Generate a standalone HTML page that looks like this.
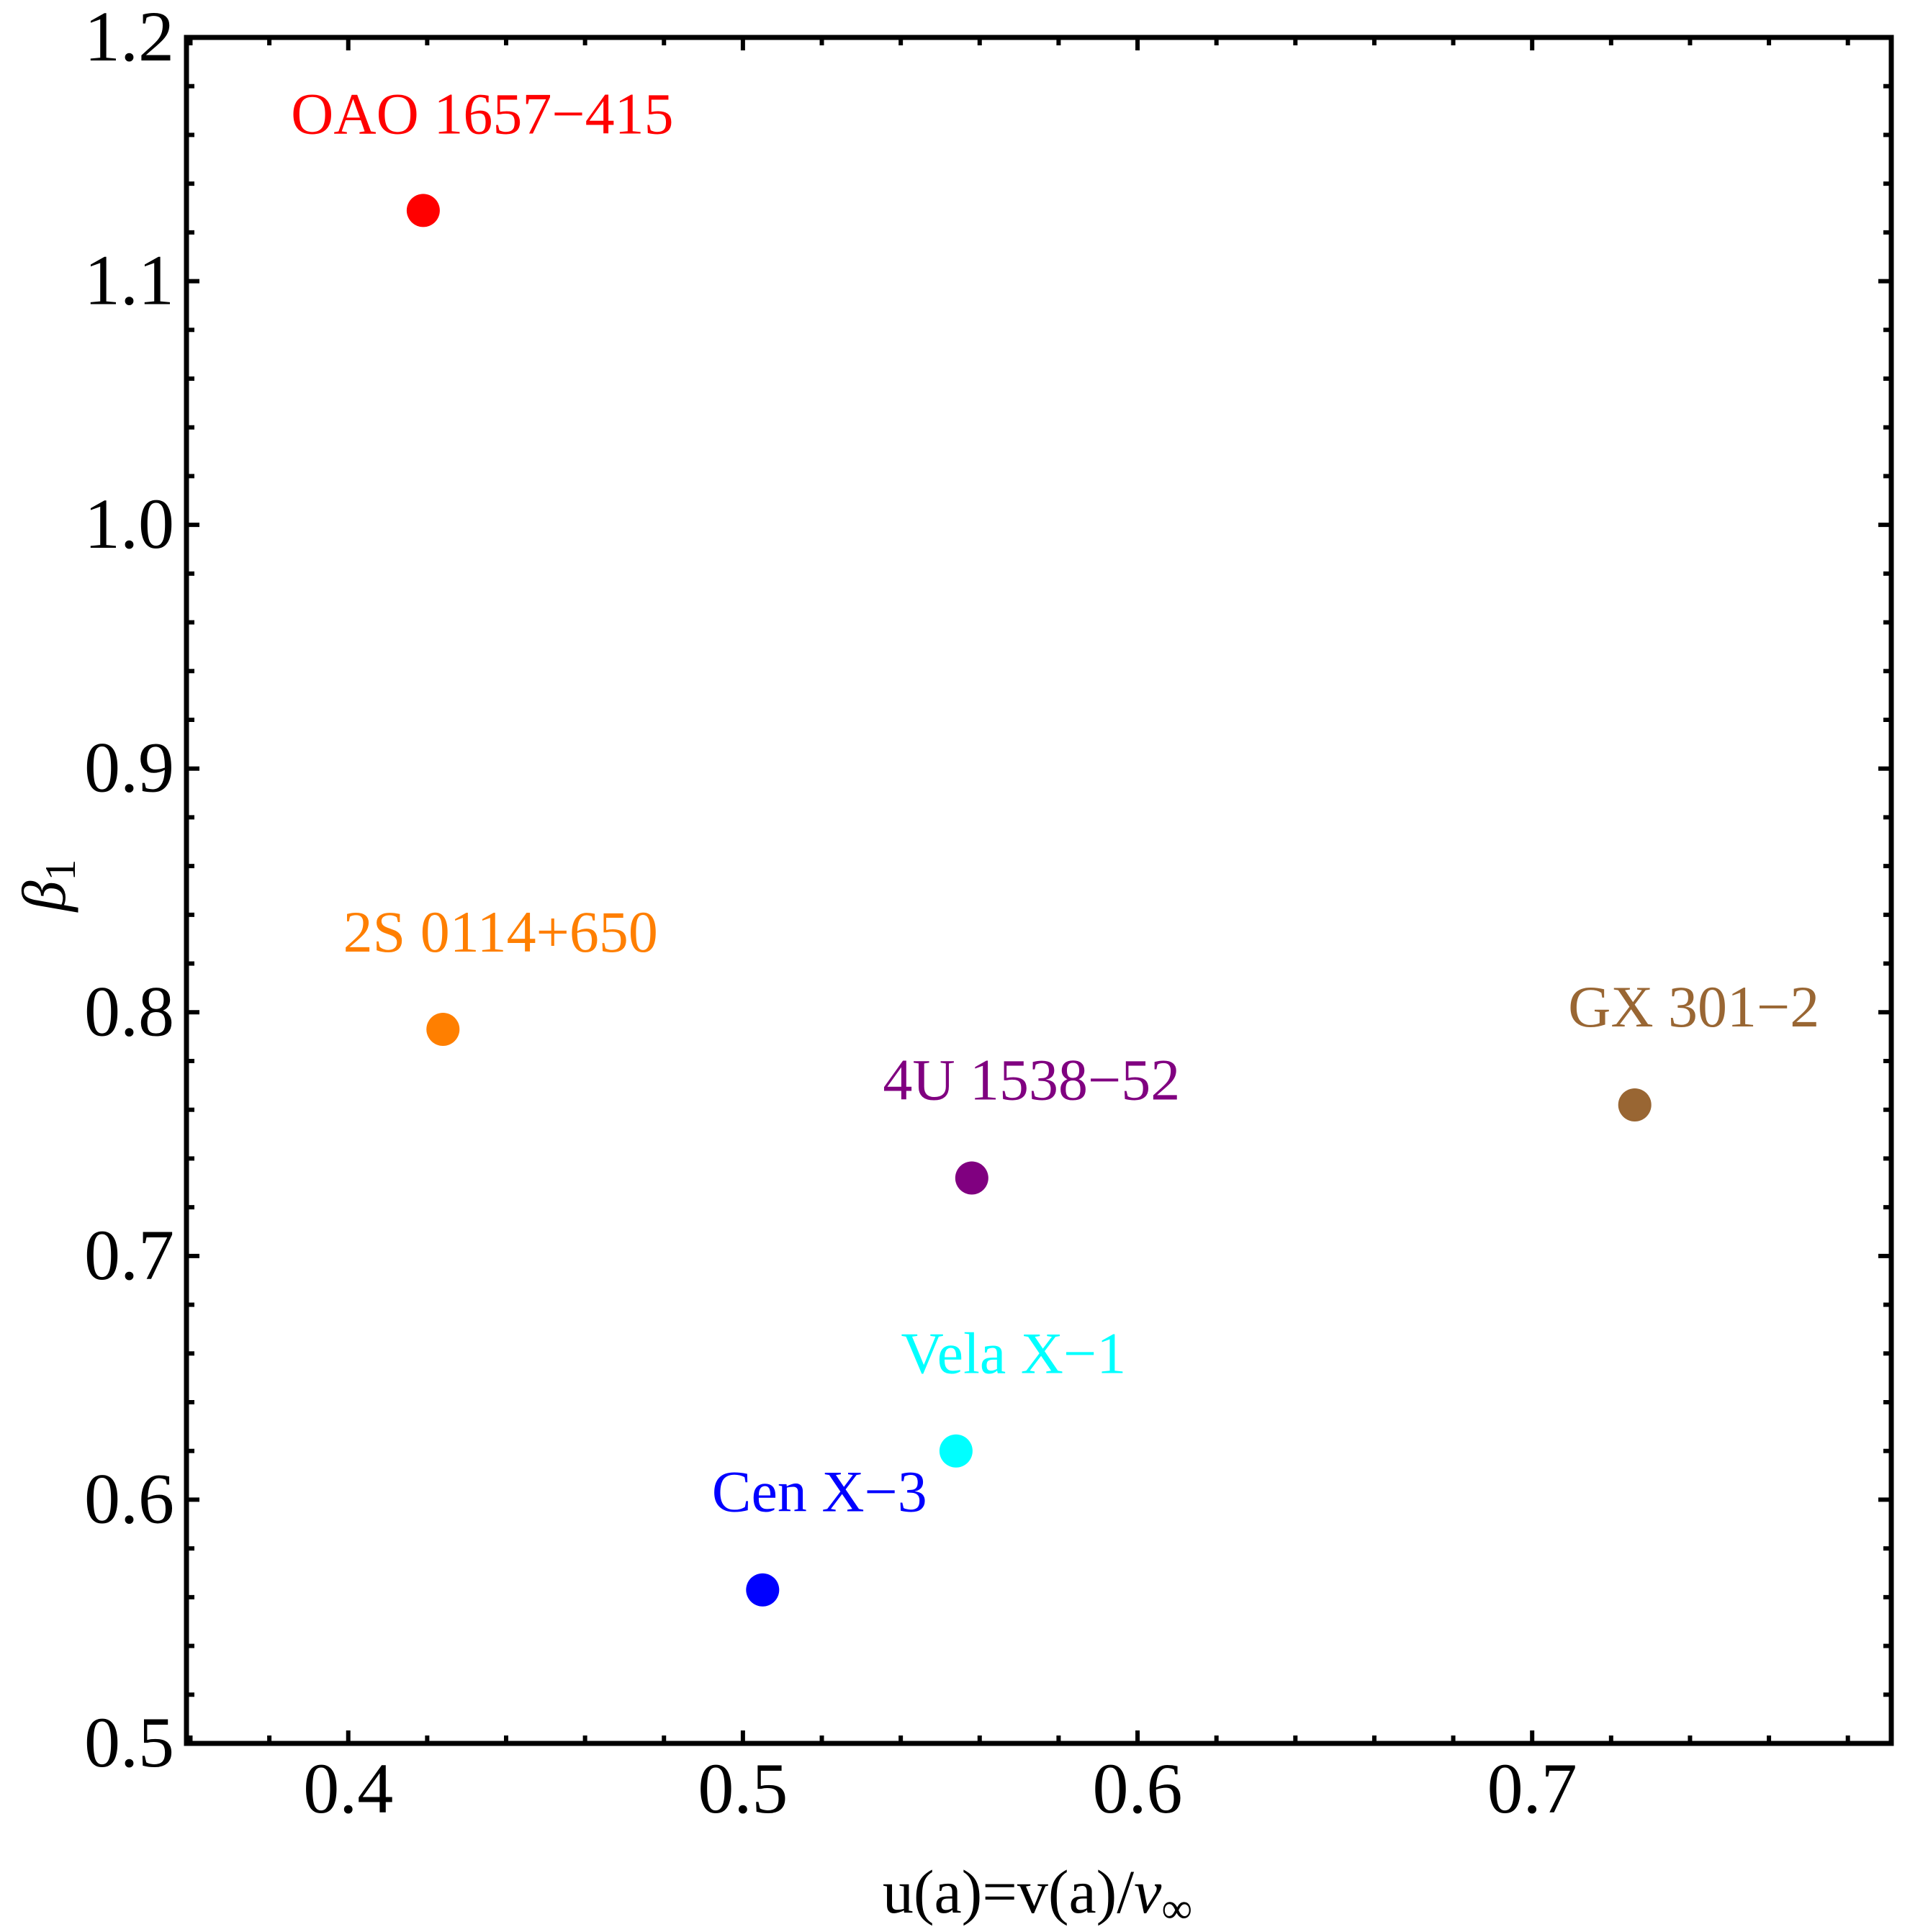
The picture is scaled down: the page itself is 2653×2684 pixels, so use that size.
<!DOCTYPE html>
<html><head><meta charset="utf-8"><style>
html,body{margin:0;padding:0;background:#fff}
svg{display:block}
text{font-family:"Liberation Serif",serif}
</style></head><body>
<svg id="chart" width="2653" height="2684" viewBox="0 0 2653 2684" xmlns="http://www.w3.org/2000/svg">
<g id="ticks"></g>
<g id="points"></g>
<rect x="259" y="52" width="2368" height="2370" fill="none" stroke="#000" stroke-width="7"/>
<text x="1441" y="2657" font-size="86" text-anchor="middle">u(a)=v(a)/<tspan font-style="italic">v</tspan><tspan font-size="60" dy="14">∞</tspan></text>
<text transform="translate(90,1230) rotate(-90)" font-size="86" text-anchor="middle"><tspan font-style="italic">β</tspan><tspan font-size="60" dy="14">1</tspan></text>
</svg>
<script>
const names = ["OAO 1657\u2212415","2S 0114+650","4U 1538\u221252","GX 301\u22122","Vela X\u22121","Cen X\u22123"];
const uVals = [0.419,0.424,0.558,0.726,0.554,0.505];
const betaVals = [1.129,0.793,0.732,0.762,0.620,0.563];
const colors = ["#ff0000","#ff7f00","#800080","#996633","#00ffff","#0000ff"];
const xTicks = [0.4,0.5,0.6,0.7];
const xTickLabels = ["0.4","0.5","0.6","0.7"];
const yTicks = [0.5,0.6,0.7,0.8,0.9,1.0,1.1,1.2];
const yTickLabels = ["0.5","0.6","0.7","0.8","0.9","1.0","1.1","1.2"];
const labelDx = [82,80,83,82,80,79];
const labelDy = [-107,-108,-109,-109,-108,-109];

const X0=259,X1=2627,Y0=2422,Y1=52, xmin=0.359,xmax=0.791,ymin=0.5,ymax=1.2;
const sx=v=>X0+(v-xmin)/(xmax-xmin)*(X1-X0);
const sy=v=>Y0-(v-ymin)/(ymax-ymin)*(Y0-Y1);
const NS="http://www.w3.org/2000/svg";
const tg=document.getElementById('ticks'), pg=document.getElementById('points');
function line(x1,y1,x2,y2,name){const l=document.createElementNS(NS,'line');
l.setAttribute('x1',x1);l.setAttribute('y1',y1);l.setAttribute('x2',x2);l.setAttribute('y2',y2);
l.setAttribute('stroke','#000');l.setAttribute('stroke-width','6');


tg.appendChild(l);}
for(let i=18;i<=39;i++){const v=i*0.02;if(v<xmin||v>xmax)continue;const x=sx(v);const major=i%5===0;const L=major?18:11;
line(x,Y0,x,Y0-L,'x-tick');line(x,Y1,x,Y1+L,'x-tick-top');}
for(let i=25;i<=60;i++){const v=i*0.02;const y=sy(v);const major=i%5===0;const L=major?18:11;
line(X0,y,X0+L,y,'y-tick');line(X1,y,X1-L,y,'y-tick-right');}
xTicks.forEach((v,i)=>{const t=document.createElementNS(NS,'text');
t.setAttribute('x',sx(v));t.setAttribute('y',2518);t.setAttribute('font-size','100');t.setAttribute('text-anchor','middle');
t.textContent=xTickLabels[i];


tg.appendChild(t);});
yTicks.forEach((v,i)=>{const t=document.createElementNS(NS,'text');
t.setAttribute('x',242);t.setAttribute('y',sy(v)+32);t.setAttribute('font-size','100');t.setAttribute('text-anchor','end');
t.textContent=yTickLabels[i];


tg.appendChild(t);});
uVals.forEach((u,i)=>{const c=document.createElementNS(NS,'circle');
c.setAttribute('cx',sx(u));c.setAttribute('cy',sy(betaVals[i]));c.setAttribute('r',23);c.setAttribute('fill',colors[i]);


pg.appendChild(c);
const t=document.createElementNS(NS,'text');
t.setAttribute('x',sx(u)+labelDx[i]);t.setAttribute('y',sy(betaVals[i])+labelDy[i]);
t.setAttribute('font-size','82');t.setAttribute('text-anchor','middle');t.setAttribute('fill',colors[i]);
t.textContent=names[i];


pg.appendChild(t);});
</script>
</body></html>
